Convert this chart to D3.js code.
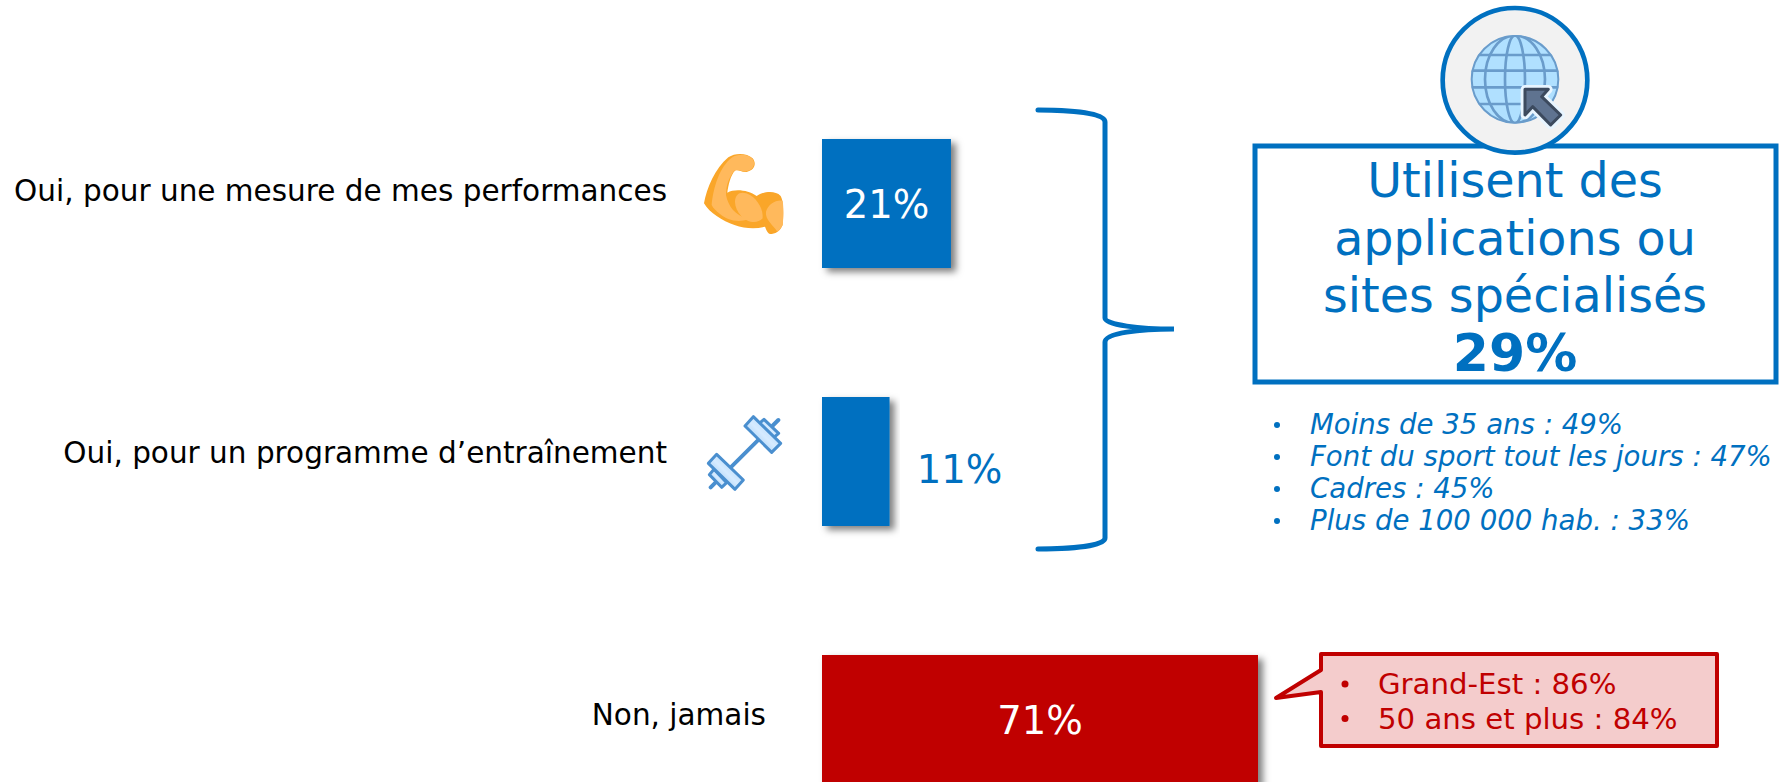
<!DOCTYPE html>
<html lang="fr">
<head>
<meta charset="utf-8">
<title>Applications et sites spécialisés</title>
<script src="https://cdn.jsdelivr.net/npm/d3@7"></script>
<style>
  html, body { margin: 0; padding: 0; background: #fff; overflow: hidden; }
  svg { display: block; }
  text { font-family: "DejaVu Sans", Verdana, sans-serif; }
</style>
</head>
<body>
<div id="chart"></div>
<script>
'use strict';

var categories = [
  'Oui, pour une mesure de mes performances',
  'Oui, pour un programme d’entraînement',
  'Non, jamais'
];
var values = [21, 11, 71];
var groupTitle = ['Utilisent des', 'applications ou', 'sites spécialisés'];
var groupValue = '29%';
var groupDetails = [
  'Moins de 35 ans : 49%',
  'Font du sport tout les jours : 47%',
  'Cadres : 45%',
  'Plus de 100 000 hab. : 33%'
];
var jamaisDetails = ['Grand-Est : 86%', '50 ans et plus : 84%'];

var BLUE = '#0070c0';
var RED = '#c00000';
var width = 1781;
var height = 782;

var svg = d3.select('#chart')
  .append('svg')
  .attr('width', width)
  .attr('height', height)
  .attr('viewBox', [0, 0, width, height]);

var defs = svg.append('defs');
var shadow = defs.append('filter')
  .attr('id', 'bar-shadow')
  .attr('x', '-10%').attr('y', '-10%')
  .attr('width', '125%').attr('height', '125%');
shadow.append('feDropShadow')
  .attr('dx', 5).attr('dy', 4)
  .attr('stdDeviation', 3.5)
  .attr('flood-color', '#000')
  .attr('flood-opacity', 0.5);

var x = d3.scaleLinear().domain([0, 71]).range([822, 1258]);
// last bar runs past the bottom of the page, as in the source slide
var y = d3.scaleBand().domain(categories).range([139, 784]).paddingInner(0.5).paddingOuter(0);

// bars
svg.append('g')
  .selectAll('rect')
  .data(categories)
  .join('rect')
  .attr('x', x(0))
  .attr('y', function (d) { return y(d); })
  .attr('width', function (d, i) { return x(values[i]) - x(0); })
  .attr('height', y.bandwidth())
  .attr('fill', function (d, i) { return i === 2 ? RED : BLUE; })
  .attr('filter', 'url(#bar-shadow)');

// category labels
var labelRight = [667, 667, 766];
var labelDy = [62, 66, 70];
svg.append('g')
  .selectAll('text')
  .data(categories)
  .join('text')
  .attr('x', function (d, i) { return labelRight[i]; })
  .attr('y', function (d, i) { return y(d) + labelDy[i]; })
  .attr('text-anchor', 'end')
  .attr('font-size', 29.5)
  .attr('fill', '#000')
  .text(function (d) { return d; });

// value labels (11% does not fit in its bar)
svg.append('g')
  .selectAll('text')
  .data(categories)
  .join('text')
  .attr('x', function (d, i) {
    return i === 1 ? x(values[i]) + 70 : (x(0) + x(values[i])) / 2;
  })
  .attr('y', function (d, i) { return y(d) + (i === 1 ? 86 : 79); })
  .attr('text-anchor', 'middle')
  .attr('font-size', 38.5)
  .attr('fill', function (d, i) { return i === 1 ? BLUE : '#fff'; })
  .text(function (d, i) { return values[i] + '%'; });

// brace
svg.append('path')
  .attr('d', 'M1038,110 C1070,110 1105,113 1105,122 L1105,318 C1105,325 1140,329 1174,329' +
    ' C1140,329 1105,333 1105,342 L1105,538 C1105,546 1070,549 1038,549')
  .attr('fill', 'none')
  .attr('stroke', BLUE)
  .attr('stroke-width', 5)
  .attr('stroke-linecap', 'round');

// group box
svg.append('rect')
  .attr('x', 1255).attr('y', 146)
  .attr('width', 521).attr('height', 236)
  .attr('fill', '#fff')
  .attr('stroke', BLUE)
  .attr('stroke-width', 5);

svg.append('g')
  .selectAll('text')
  .data(groupTitle)
  .join('text')
  .attr('x', 1515)
  .attr('y', function (d, i) { return 197 + i * 57.5; })
  .attr('text-anchor', 'middle')
  .attr('font-size', 47.6)
  .attr('fill', BLUE)
  .text(function (d) { return d; });

svg.append('text')
  .attr('x', 1515).attr('y', 371)
  .attr('text-anchor', 'middle')
  .attr('font-size', 52)
  .attr('font-weight', 'bold')
  .attr('fill', BLUE)
  .text(groupValue);

// bullets under the box
var details = svg.append('g').attr('fill', BLUE);
details.selectAll('circle')
  .data(groupDetails)
  .join('circle')
  .attr('cx', 1277)
  .attr('cy', function (d, i) { return 425 + i * 32; })
  .attr('r', 3);
details.selectAll('text')
  .data(groupDetails)
  .join('text')
  .attr('x', 1310)
  .attr('y', function (d, i) { return 434 + i * 32; })
  .attr('font-size', 27.6)
  .attr('font-style', 'italic')
  .text(function (d) { return d; });

// callout next to the red bar
svg.append('path')
  .attr('d', 'M1321,654 L1717,654 L1717,746 L1321,746 L1321,692 L1276,698 L1321,670 Z')
  .attr('fill', '#f4cccc')
  .attr('stroke', RED)
  .attr('stroke-width', 4)
  .attr('stroke-linejoin', 'round');

var callout = svg.append('g').attr('fill', RED);
callout.selectAll('circle')
  .data(jamaisDetails)
  .join('circle')
  .attr('cx', 1345)
  .attr('cy', function (d, i) { return 684 + i * 34.5; })
  .attr('r', 3.5);
callout.selectAll('text')
  .data(jamaisDetails)
  .join('text')
  .attr('x', 1378)
  .attr('y', function (d, i) { return 694 + i * 34.5; })
  .attr('font-size', 29.2)
  .text(function (d) { return d; });

// muscle icon, drawn in 3x units
var muscle = svg.append('g').attr('transform', 'translate(600,110) scale(0.3333)');
muscle.append('path')
  .attr('fill', '#faa629')
  .attr('d', 'M312,280 C320,235 345,175 385,142 C405,128 440,128 458,145 C470,160 465,180 440,186' +
    ' C425,188 415,178 405,182 C392,195 385,225 382,248 C405,235 445,240 470,258' +
    ' C490,245 525,240 542,258 C552,275 550,320 548,345 C540,365 525,372 510,372' +
    ' C500,368 498,355 495,350 C450,362 395,350 350,318 C335,308 320,295 312,280 Z');
muscle.append('path')
  .attr('fill', '#ffb95c')
  .attr('d', 'M335,285 C340,230 360,170 395,143 C415,130 445,132 458,147 C468,162 460,180 440,184' +
    ' C425,186 415,176 403,182 C388,200 378,225 378,255 C385,290 405,315 445,328' +
    ' C410,340 380,328 360,312 C348,303 340,295 335,285 Z');
muscle.append('path')
  .attr('fill', '#ffb95c')
  .attr('d', 'M405,275 C405,250 425,240 450,255 C475,270 490,300 488,325 C470,345 440,335 425,320 C412,305 405,290 405,275 Z');
muscle.append('path')
  .attr('fill', '#ffb95c')
  .attr('d', 'M498,305 C505,280 530,268 548,272 C552,300 550,330 548,345 C542,355 538,362 532,365 C520,345 495,330 498,305 Z');

// barbell icon, drawn in 3x units
var barbell = svg.append('g').attr('transform', 'translate(690,400) scale(0.3333)');
var plateFill = defs.append('linearGradient')
  .attr('id', 'plate-fill')
  .attr('x1', 0).attr('y1', 1).attr('x2', 1).attr('y2', 0);
plateFill.append('stop').attr('offset', '0%').attr('stop-color', '#7db9f0');
plateFill.append('stop').attr('offset', '50%').attr('stop-color', '#d6ebff');
plateFill.append('stop').attr('offset', '100%').attr('stop-color', '#9bccf8');
barbell.append('path')
  .attr('d', 'M62,262 L265,60')
  .attr('fill', 'none')
  .attr('stroke', '#4a8fcf')
  .attr('stroke-width', 12)
  .attr('stroke-linecap', 'round');
barbell.selectAll('polygon')
  .data([
    '222,58 266,100 250,114 206,72',
    '190,50 272,130 245,157 165,78',
    '72,208 110,248 95,262 58,224',
    '80,163 160,240 135,268 55,190'
  ])
  .join('polygon')
  .attr('points', function (d) { return d; })
  .attr('fill', 'url(#plate-fill)')
  .attr('stroke', '#4a8fcf')
  .attr('stroke-width', 9)
  .attr('stroke-linejoin', 'round');

// globe badge, drawn in 3x units
var badge = svg.append('g').attr('transform', 'translate(1430,0) scale(0.3333)');
badge.append('circle')
  .attr('cx', 255).attr('cy', 241).attr('r', 217)
  .attr('fill', '#f2f2f2')
  .attr('stroke', BLUE)
  .attr('stroke-width', 14);
defs.append('clipPath').attr('id', 'globe-clip')
  .append('circle').attr('cx', 255).attr('cy', 238).attr('r', 132);
badge.append('circle')
  .attr('cx', 255).attr('cy', 238).attr('r', 132)
  .attr('fill', '#b0e0ff');
var grid = badge.append('g')
  .attr('clip-path', 'url(#globe-clip)')
  .attr('fill', 'none')
  .attr('stroke', '#6a9ccb')
  .attr('stroke-width', 8);
grid.selectAll('ellipse')
  .data([30, 90])
  .join('ellipse')
  .attr('cx', 255).attr('cy', 238)
  .attr('rx', function (d) { return d; })
  .attr('ry', 132);
grid.selectAll('line')
  .data([165, 212, 262, 312])
  .join('line')
  .attr('x1', 110).attr('x2', 400)
  .attr('y1', function (d) { return d; })
  .attr('y2', function (d) { return d; });
badge.append('circle')
  .attr('cx', 255).attr('cy', 238).attr('r', 130)
  .attr('fill', 'none')
  .attr('stroke', '#6a9ccb')
  .attr('stroke-width', 6);
var arrow = '285,268 355,268 335,290 392,345 362,375 308,320 285,345';
badge.append('polygon')
  .attr('points', arrow)
  .attr('fill', '#e8f5ff')
  .attr('stroke', '#e8f5ff')
  .attr('stroke-width', 26)
  .attr('stroke-linejoin', 'round');
badge.append('polygon')
  .attr('points', arrow)
  .attr('fill', '#5f7390')
  .attr('stroke', '#3c4a5e')
  .attr('stroke-width', 9)
  .attr('stroke-linejoin', 'round');
</script>
</body>
</html>
